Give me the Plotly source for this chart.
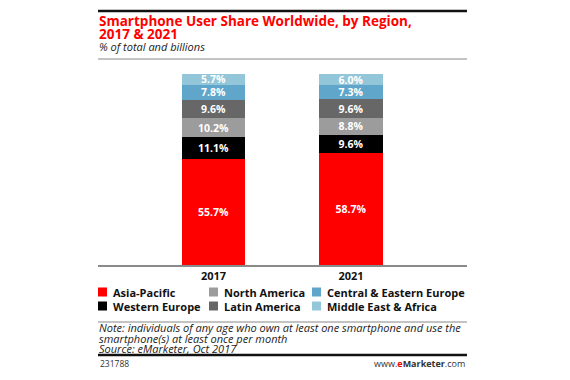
import plotly.graph_objects as go

# ---- data ----
years = ["2017", "2021"]
totals = ["2.39", "3.08"]
regions = ["Asia-Pacific", "Western Europe", "North America", "Latin America",
           "Central & Eastern Europe", "Middle East & Africa"]
share_2017 = [55.7, 11.1, 10.2, 9.6, 7.8, 5.7]
share_2021 = [58.7, 9.6, 8.8, 9.6, 7.3, 6.0]
colors = ["#FF0000", "#000000", "#9C9C9C", "#676767", "#5FA6CA", "#94C6D9"]
legend_rows = [["Asia-Pacific", "North America", "Central & Eastern Europe"],
               ["Western Europe", "Latin America", "Middle East & Africa"]]
title_lines = ["Smartphone User Share Worldwide, by Region,", "2017 & 2021"]
subtitle = "% of total and billions"
note_lines = ["Note: individuals of any age who own at least one smartphone and use the",
              "smartphone(s) at least once per month",
              "Source: eMarketer, Oct 2017"]

# ---- geometry (page pixels; the page body has an 8px margin) ----
OFF = 8
W, H = 570 - 2 * OFF, 380 - 2 * OFF
L, R, T, B = 98, 467, 65, 265
FONT = "Open Sans"


def px(x):
    return (x - L) / (R - L)


def py(y):
    return (B - y) / (B - T)


fig = go.Figure()
for i, reg in enumerate(regions):
    vals = [share_2017[i], share_2021[i]]
    fig.add_trace(go.Bar(
        x=years, y=vals, name=reg,
        marker=dict(color=colors[i], line=dict(width=0)),
        text=[f"{v:.1f}%" for v in vals],
        textposition="inside", insidetextanchor="middle",
        constraintext="none",
        textfont=dict(color="white", size=10.5, family=FONT, weight="bold"),
        hoverinfo="skip", showlegend=False,
    ))

ann = []
shapes = []


def hline(y, color, width):
    shapes.append(dict(type="line", xref="paper", yref="paper", x0=px(98), x1=px(467),
                       y0=py(y), y1=py(y), line=dict(color=color, width=width)))


def text(x, y, s, size, color="#111111", anchor="left", weight="normal", italic=False):
    if italic:
        s = f"<i>{s}</i>"
    ann.append(dict(x=px(x), y=py(y), xref="paper", yref="paper", xanchor=anchor,
                    yanchor="middle", showarrow=False, text=s,
                    font=dict(color=color, size=size, family=FONT, weight=weight)))


# totals
for yr, tot in zip(years, totals):
    ann.append(dict(x=yr, y=100, xref="x", yref="y", text=tot, showarrow=False,
                    yanchor="bottom", yshift=0,
                    font=dict(color="#FF0000", size=11, family=FONT, weight="bold")))

# header
hline(11, "#111111", 2.5)
text(97, 21, title_lines[0], 13.5, "#FF0000", weight="bold")
text(97, 34, title_lines[1], 13.5, "#FF0000", weight="bold")
text(97, 47, subtitle, 11, "#222222", italic=True)
hline(59, "#888888", 1)

# legend (manual)
col_x = [98, 209, 312]
row_y = [292, 306]
for r, row in enumerate(legend_rows):
    for c, name in enumerate(row):
        col = colors[regions.index(name)]
        x0 = col_x[c]
        yc = row_y[r]
        shapes.append(dict(type="rect", xref="paper", yref="paper",
                           x0=px(x0), x1=px(x0 + 9), y0=py(yc - 4.5), y1=py(yc + 4.5),
                           fillcolor=col, line=dict(width=0)))
        text(x0 + 13, yc, name, 11, "#111111", weight="bold")

hline(322, "#888888", 1)
for k, line in enumerate(note_lines):
    text(97, 327.5 + 10.5 * k, line, 11, "#222222", italic=True)
hline(355, "#111111", 2.5)
text(98, 363, "231788", 8.5, "#333333")
text(467, 363, "www.<span style='color:#FF0000'><b>e</b></span><b>Marketer</b>.com",
     9, "#333333", anchor="right")

fig.update_layout(
    width=W, height=H,
    margin=dict(l=L - OFF, r=W - (R - OFF), t=T - OFF, b=H - (B - OFF), pad=0),
    barmode="stack", bargap=0.54,
    plot_bgcolor="white", paper_bgcolor="white",
    showlegend=False,
    annotations=ann, shapes=shapes,
    xaxis=dict(range=[-0.84, 1.844], showline=True, linecolor="#8A8A8A", linewidth=1.5,
               ticks="", showgrid=False,
               tickfont=dict(color="#111111", size=11, family=FONT, weight="bold")),
    yaxis=dict(range=[0, 100 * (B - T) / 191], visible=False, showgrid=False),
)

fig.write_html("out.html")
